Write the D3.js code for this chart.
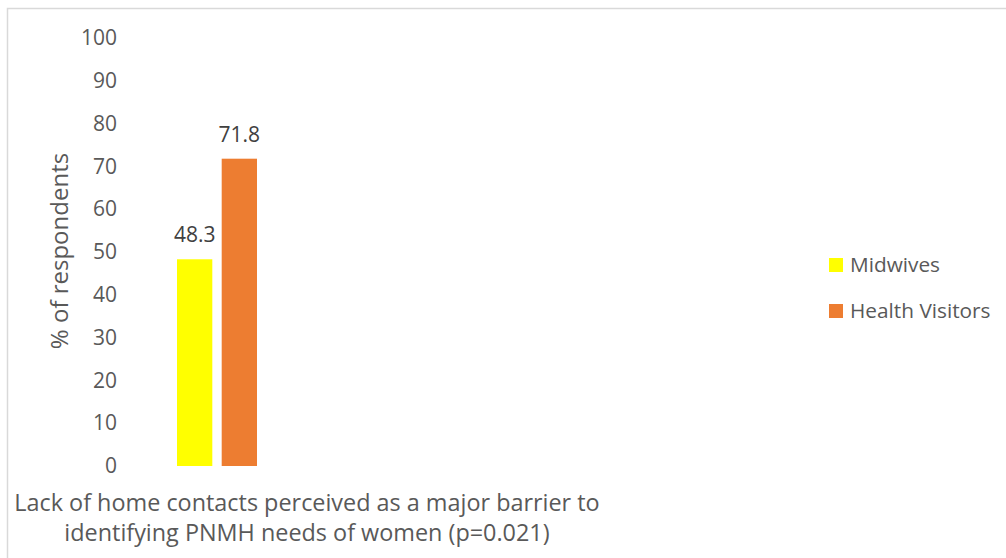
<!DOCTYPE html>
<html>
<head>
<meta charset="utf-8">
<script src="https://cdn.jsdelivr.net/npm/d3@7"></script>
<style>
  html, body { margin: 0; padding: 0; background: #fff; }
  svg { display: block; font-family: "Open Sans", "Noto Sans", sans-serif; }
</style>
</head>
<body>
<svg id="chart" width="1006" height="558"></svg>
<script>
// Survey result: share of respondents reporting the barrier, by profession
const categories = ["Lack of home contacts perceived as a major barrier to identifying PNMH needs of women (p=0.021)"];
const categoryLines = ["Lack of home contacts perceived as a major barrier to", "identifying PNMH needs of women (p=0.021)"];
const seriesNames = ["Midwives", "Health Visitors"];
const seriesValues = [48.3, 71.8];
const seriesColors = ["#FFFF00", "#ED7D31"];
const yTicks = [0, 10, 20, 30, 40, 50, 60, 70, 80, 90, 100];
const yTitle = "% of respondents";

const svg = d3.select("#chart");
const textColor = "#595959";

// chart frame
svg.append("rect")
  .attr("x", 7.5).attr("y", 8.5)
  .attr("width", 1010).attr("height", 570)
  .attr("fill", "#fff")
  .attr("stroke", "#D9D9D9")
  .attr("stroke-width", 1.5);

const y = d3.scaleLinear().domain([0, 100]).range([466, 38]);

const x0 = d3.scaleBand().domain(categories).range([127, 307]).paddingOuter(0.625).paddingInner(0);
const x1 = d3.scaleBand().domain(seriesNames).range([0, x0.bandwidth()]).paddingInner(0.21);

// y axis (labels only)
const yAxis = d3.axisLeft(y).tickValues(yTicks).tickSize(0).tickPadding(0);
const gy = svg.append("g").attr("transform", "translate(117,0)").call(yAxis);
gy.select(".domain").remove();
gy.selectAll("text")
  .attr("fill", textColor)
  .style("font-size", "21px")
  .style("font-family", "'Open Sans', 'Noto Sans', sans-serif");

// y axis title
svg.append("text")
  .attr("transform", "translate(60,251) rotate(-90)")
  .attr("text-anchor", "middle")
  .attr("dy", "0.35em")
  .attr("fill", textColor)
  .style("font-size", "24px")
  .text(yTitle);

// bars
const rows = seriesNames.map((s, i) => ({ cat: categories[0], name: s, value: seriesValues[i], color: seriesColors[i] }));
const g = svg.append("g");
g.selectAll("rect.bar").data(rows).join("rect")
  .attr("class", "bar")
  .attr("x", d => x0(d.cat) + x1(d.name))
  .attr("y", d => y(d.value))
  .attr("width", x1.bandwidth())
  .attr("height", d => y(0) - y(d.value))
  .attr("fill", d => d.color);

// value labels
g.selectAll("text.val").data(rows).join("text")
  .attr("class", "val")
  .attr("x", d => x0(d.cat) + x1(d.name) + x1.bandwidth() / 2)
  .attr("y", d => y(d.value) - 17)
  .attr("text-anchor", "middle")
  .attr("fill", "#404040")
  .style("font-size", "21px")
  .text(d => d.value.toFixed(1));

// category label (two lines)
const catLabel = svg.append("text")
  .attr("text-anchor", "middle")
  .attr("fill", textColor)
  .style("font-size", "23.4px");
categoryLines.forEach((line, i) => {
  catLabel.append("tspan")
    .attr("x", 307)
    .attr("y", 511 + i * 30)
    .text(line);
});

// legend
const legend = svg.append("g");
const lg = legend.selectAll("g").data(rows).join("g")
  .attr("transform", (d, i) => `translate(829,${258 + i * 46})`);
lg.append("rect").attr("width", 14).attr("height", 14).attr("fill", d => d.color);
lg.append("text")
  .attr("x", 21).attr("y", 7).attr("dy", "0.35em")
  .attr("fill", textColor)
  .style("font-size", "20.8px")
  .text(d => d.name);
</script>
</body>
</html>
